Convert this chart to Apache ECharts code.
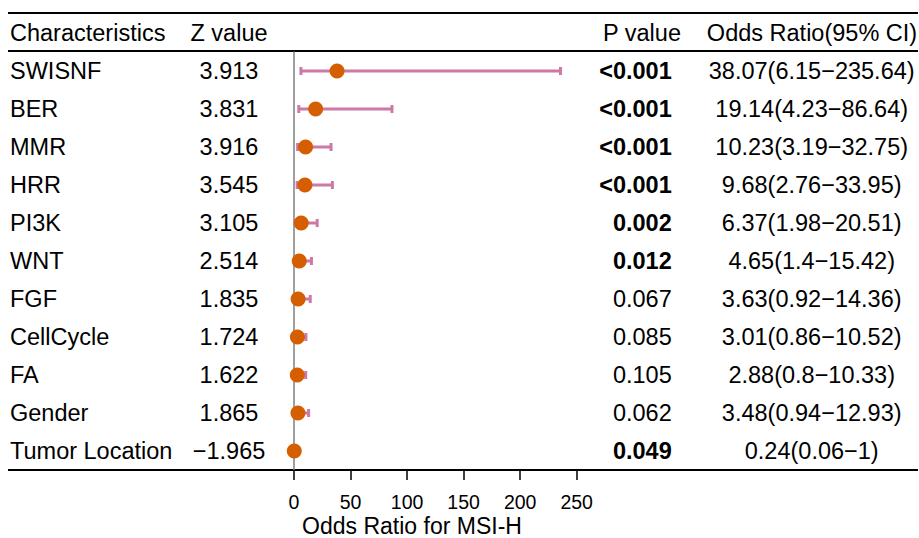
<!DOCTYPE html>
<html>
<head>
<meta charset="utf-8">
<script src="https://cdn.jsdelivr.net/npm/echarts@6/dist/echarts.min.js"></script>
<style>html,body{margin:0;padding:0;background:#fff;}#c{width:919px;height:538px;}</style>
</head>
<body>
<div id="c"></div>
<script>
const characteristics = ['SWISNF','BER','MMR','HRR','PI3K','WNT','FGF','CellCycle','FA','Gender','Tumor Location'];
const zValues = ['3.913','3.831','3.916','3.545','3.105','2.514','1.835','1.724','1.622','1.865','\u22121.965'];
const pValues = ['<0.001','<0.001','<0.001','<0.001','0.002','0.012','0.067','0.085','0.105','0.062','0.049'];
const pSignificant = [true,true,true,true,true,true,false,false,false,false,true];
const oddsRatio = [38.07,19.14,10.23,9.68,6.37,4.65,3.63,3.01,2.88,3.48,0.24];
const ciLower = [6.15,4.23,3.19,2.76,1.98,1.4,0.92,0.86,0.8,0.94,0.06];
const ciUpper = [235.64,86.64,32.75,33.95,20.51,15.42,14.36,10.52,10.33,12.93,1];
const orText = ['38.07(6.15\u2212235.64)','19.14(4.23\u221286.64)','10.23(3.19\u221232.75)','9.68(2.76\u221233.95)','6.37(1.98\u221220.51)','4.65(1.4\u221215.42)','3.63(0.92\u221214.36)','3.01(0.86\u221210.52)','2.88(0.8\u221210.33)','3.48(0.94\u221212.93)','0.24(0.06\u22121)'];
const xTicks = {min: 0, max: 250, interval: 50};
const headers = ['Characteristics','Z value','P value','Odds Ratio(95% CI)'];
const xTitle = 'Odds Ratio for MSI-H';

const FONT = 'Liberation Sans, Arial, Helvetica, sans-serif';
const FS = 23.5;
const chart = echarts.init(document.getElementById('c'), null, {renderer: 'svg'});

const ciData = characteristics.map((c, i) => [ciLower[i], ciUpper[i], i]);
const pointData = characteristics.map((c, i) => [oddsRatio[i], i]);

function catAxis(extra) {
  return Object.assign({
    type: 'category', inverse: true, data: characteristics,
    axisTick: {show: false}, axisLine: {show: false}, splitLine: {show: false}
  }, extra);
}

const option = {
  animation: false,
  backgroundColor: '#ffffff',
  grid: {left: 294, width: 282.7, top: 52, height: 418, outerBoundsMode: 'none', containLabel: false},
  xAxis: {
    type: 'value', min: xTicks.min, max: xTicks.max, interval: xTicks.interval,
    axisLine: {show: false},
    axisTick: {show: true, length: 10, lineStyle: {color: '#000', width: 1.5}},
    splitLine: {show: false},
    axisLabel: {color: '#000', fontSize: 19.5, fontFamily: FONT, margin: 22}
  },
  yAxis: [
    catAxis({position: 'left',
      axisLine: {show: true, onZero: false, lineStyle: {color: '#7f7f7f', width: 1.5}},
      axisLabel: {interval: 0, align: 'left', margin: 284, color: '#000', fontSize: FS, fontFamily: FONT}}),
    catAxis({position: 'left',
      axisLabel: {interval: 0, align: 'center', margin: 65, color: '#000', fontSize: FS, fontFamily: FONT,
        formatter: (v, i) => zValues[i]}}),
    catAxis({position: 'right',
      axisLabel: {interval: 0, align: 'right', margin: 95, color: '#000', fontSize: FS, fontFamily: FONT,
        formatter: (v, i) => pSignificant[i] ? '{b|' + pValues[i] + '}' : pValues[i],
        rich: {b: {fontWeight: 'bold', fontSize: FS, fontFamily: FONT, color: '#000'}}}}),
    catAxis({position: 'right',
      axisLabel: {interval: 0, align: 'center', margin: 235, color: '#000', fontSize: FS, fontFamily: FONT,
        formatter: (v, i) => orText[i]}})
  ],
  series: [
    {
      type: 'custom', yAxisIndex: 0, z: 2,
      data: ciData,
      encode: {x: [0, 1], y: 2},
      renderItem: function (params, api) {
        const y = api.value(2);
        const p1 = api.coord([api.value(0), y]);
        const p2 = api.coord([api.value(1), y]);
        const h = 4;
        const st = {stroke: '#CC79A7', lineWidth: 3};
        return {type: 'group', children: [
          {type: 'line', shape: {x1: p1[0], y1: p1[1], x2: p2[0], y2: p2[1]}, style: st},
          {type: 'line', shape: {x1: p1[0], y1: p1[1] - h, x2: p1[0], y2: p1[1] + h}, style: st},
          {type: 'line', shape: {x1: p2[0], y1: p2[1] - h, x2: p2[0], y2: p2[1] + h}, style: st}
        ]};
      }
    },
    {
      type: 'scatter', yAxisIndex: 0, z: 3,
      data: pointData, symbol: 'circle', symbolSize: 15,
      itemStyle: {color: '#D55E00', opacity: 1}
    }
  ],
  graphic: [
    {type: 'line', shape: {x1: 8, y1: 13, x2: 918, y2: 13}, style: {stroke: '#000', lineWidth: 2}},
    {type: 'line', shape: {x1: 8, y1: 51, x2: 918, y2: 51}, style: {stroke: '#000', lineWidth: 2}},
    {type: 'line', shape: {x1: 8, y1: 470, x2: 918, y2: 470}, style: {stroke: '#000', lineWidth: 2}},
    {type: 'text', x: 10, y: 33, style: {text: headers[0], fill: '#000', font: FS + 'px ' + FONT, textAlign: 'left', textVerticalAlign: 'middle'}},
    {type: 'text', x: 229, y: 33, style: {text: headers[1], fill: '#000', font: FS + 'px ' + FONT, textAlign: 'center', textVerticalAlign: 'middle'}},
    {type: 'text', x: 642, y: 33, style: {text: headers[2], fill: '#000', font: FS + 'px ' + FONT, textAlign: 'center', textVerticalAlign: 'middle'}},
    {type: 'text', x: 812, y: 33, style: {text: headers[3], fill: '#000', font: FS + 'px ' + FONT, textAlign: 'center', textVerticalAlign: 'middle'}},
    {type: 'text', x: 412, y: 526, style: {text: xTitle, fill: '#000', font: '23px ' + FONT, textAlign: 'center', textVerticalAlign: 'middle'}}
  ]
};
chart.setOption(option);
</script>
</body>
</html>
